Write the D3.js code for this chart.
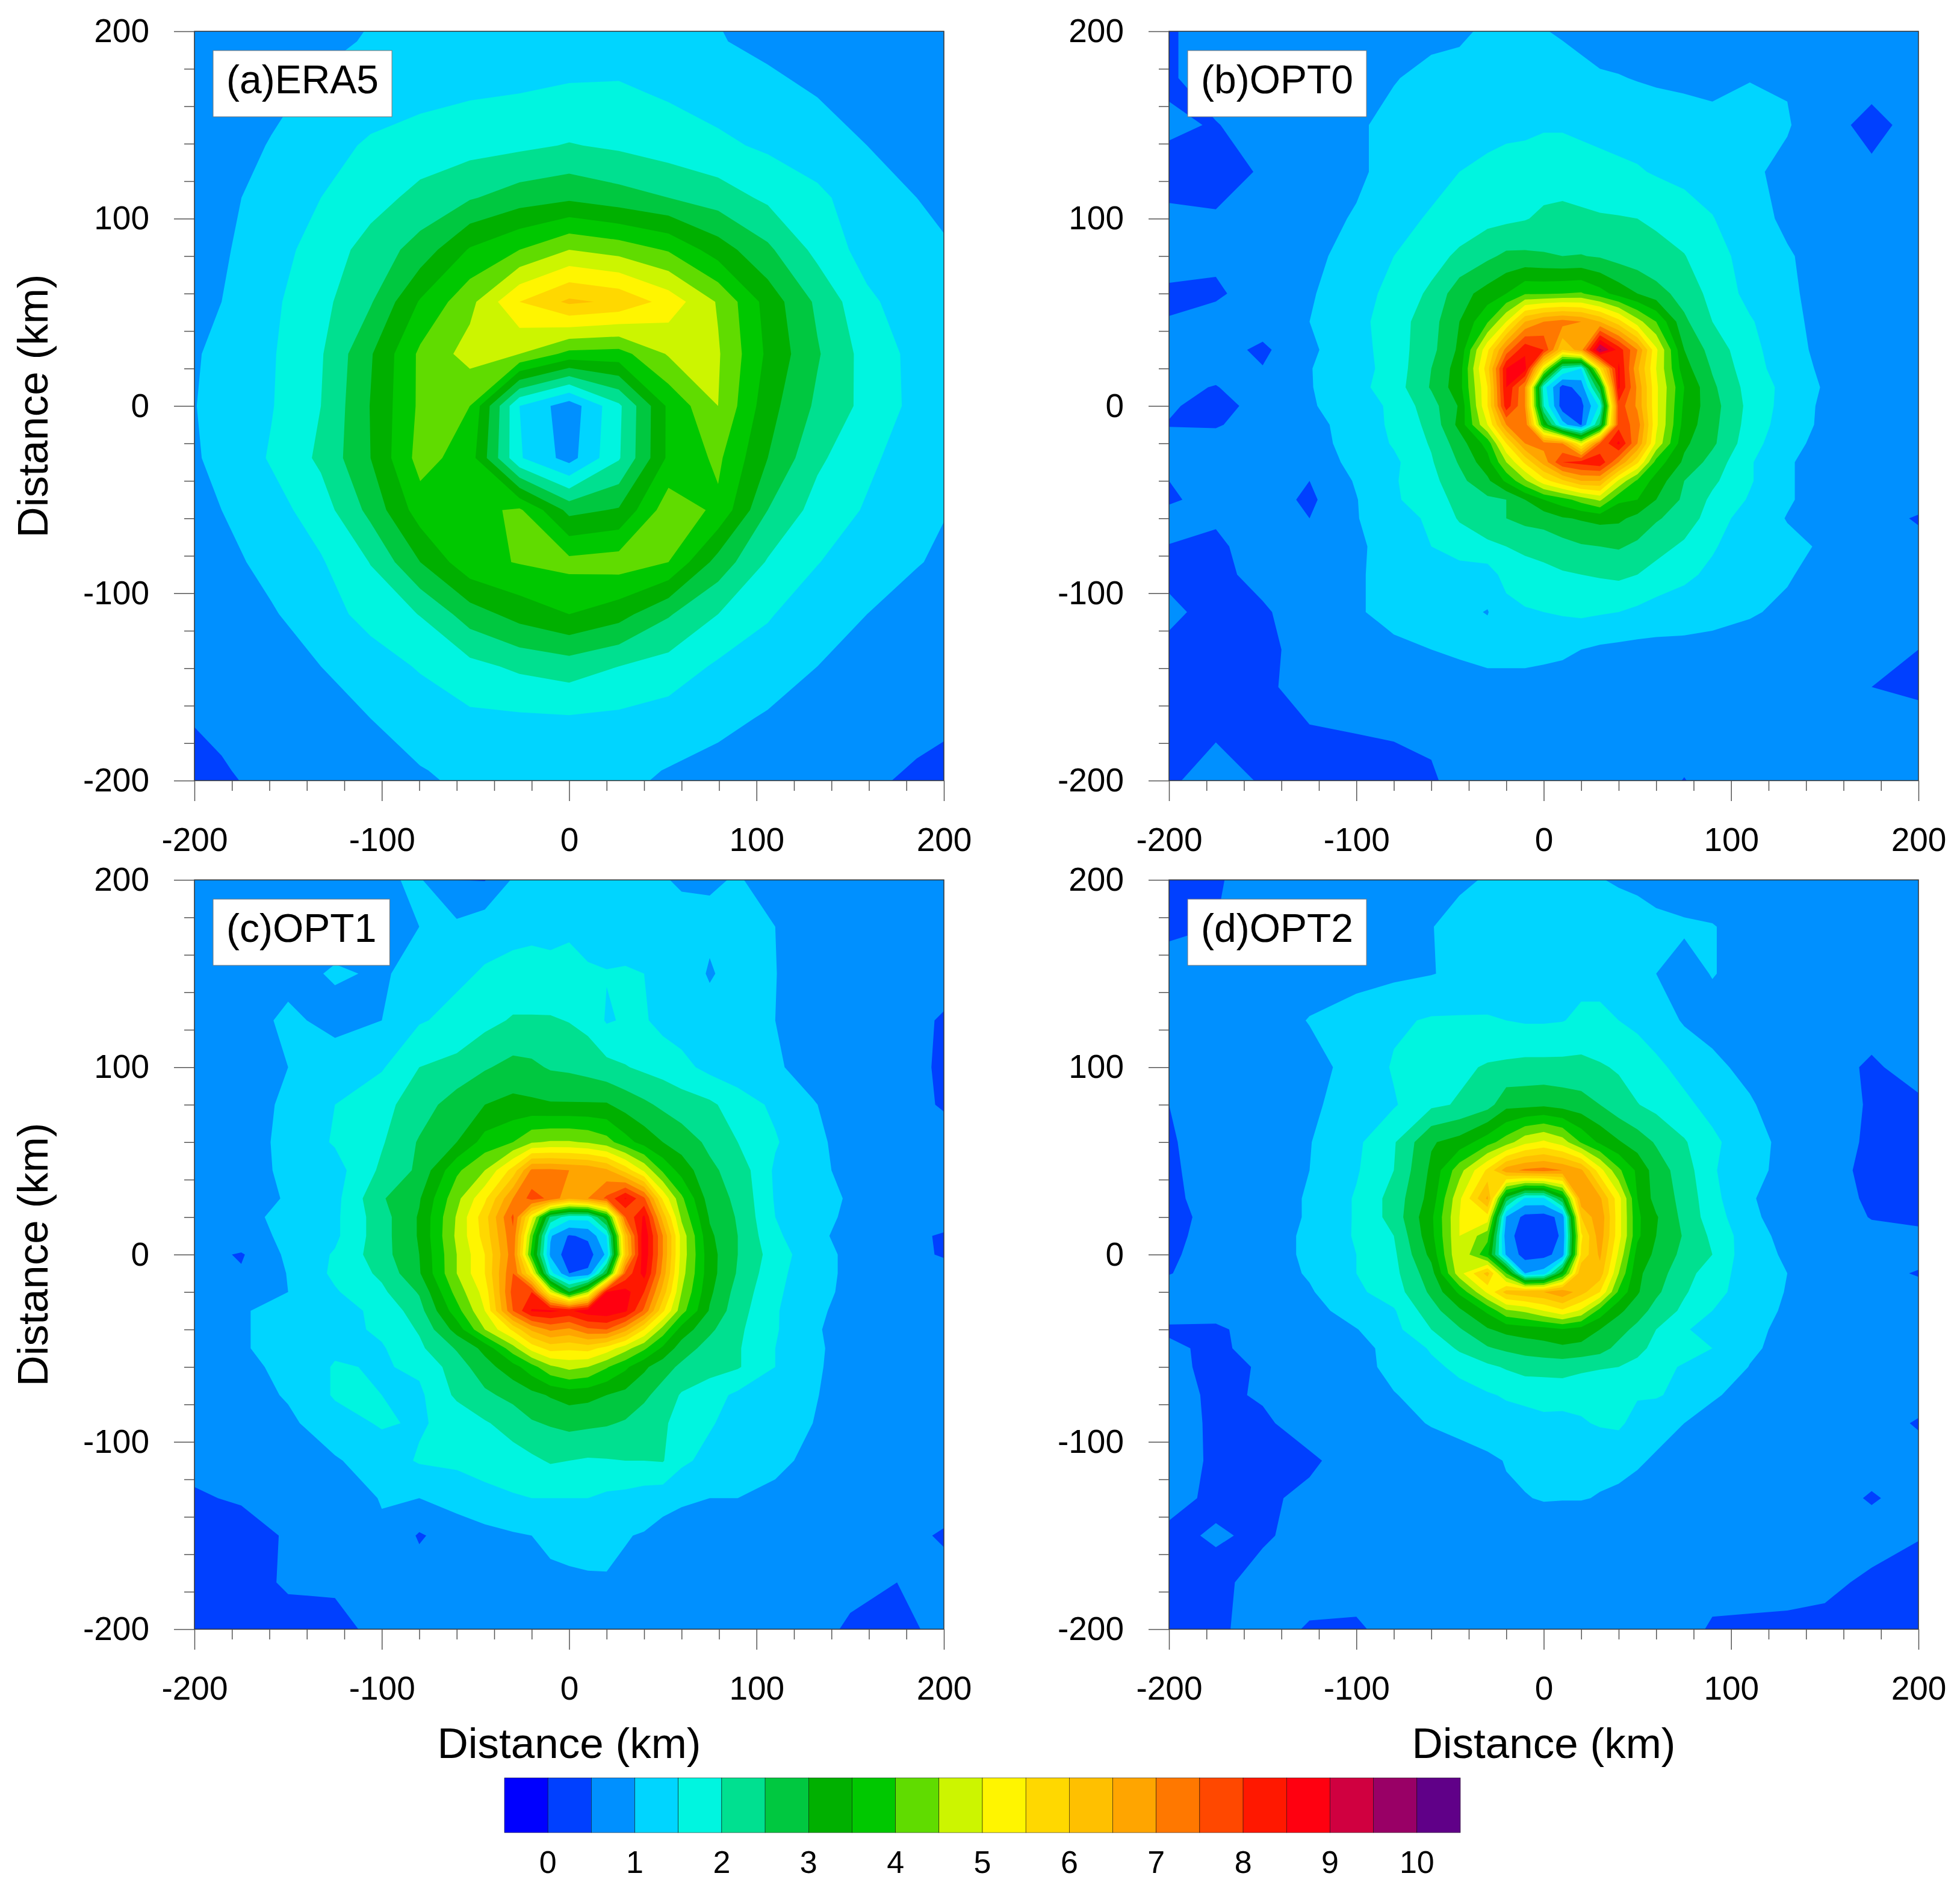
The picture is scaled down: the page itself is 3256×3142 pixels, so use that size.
<!DOCTYPE html>
<html>
<head>
<meta charset="utf-8">
<script src="https://cdn.jsdelivr.net/npm/d3@7"></script>
<style>
	body { margin: 0; background: #fff; }
	text { font-family: "Liberation Sans", Arial, sans-serif; fill: #000; }
</style>
</head>
<body>
<div id="chart"></div>
<script>
const levels = [0, .5, 1, 1.5, 2, 2.5, 3, 3.5, 4, 4.5, 5, 5.5, 6, 6.5, 7, 7.5, 8, 8.5, 9, 9.5, 10]
const fillColors = ["#0000ff", "#0040ff", "#0090ff", "#00d5ff", "#00f5e0", "#00e090", "#00c840", "#00b000", "#00c800", "#60dc00", "#ccf500", "#fff500", "#ffd800", "#ffc000", "#ffa500", "#ff7800", "#ff4800", "#ff1800", "#ff0010", "#d00040", "#990066", "#600088"]
const barLabels = [0, 1, 2, 3, 4, 5, 6, 7, 8, 9, 10]
const majorTicks = [-200, -100, 0, 100, 200]
const minorTicks = [-180, -160, -140, -120, -80, -60, -40, -20, 20, 40, 60, 80, 120, 140, 160, 180]

// ERA5 grid, about 26.5 km by 27.8 km, runs a little past the frame
const eraX = [-212, -185.5, -159, -132.5, -106, -79.5, -53, -26.5, 0, 26.5, 53, 79.5, 106, 132.5, 159, 185.5, 212]
const eraY = [222.4, 194.6, 166.8, 139, 111.2, 83.4, 55.6, 27.8, 0, -27.8, -55.6, -83.4, -111.2, -139, -166.8, -194.6, -222.4]
const era5Values = [
	[.6,.65,.75,.85,.95,1.02,1.05,1.1,1.1,1.1,1.05,.95,.8,.7,.6,.55,.5],
	[.62,.7,.8,.92,1.03,1.12,1.2,1.25,1.3,1.28,1.15,1.03,.88,.78,.68,.62,.58],
	[.68,.78,.92,1.07,1.22,1.36,1.45,1.5,1.55,1.57,1.45,1.3,1.15,.98,.85,.72,.66],
	[.75,.85,1.02,1.28,1.58,1.72,1.82,1.9,2.03,1.92,1.75,1.6,1.42,1.25,1.0,.82,.72],
	[.78,.9,1.15,1.5,1.8,2.15,2.45,2.75,2.9,2.7,2.5,2.25,1.9,1.6,1.25,1.0,.85],
	[.8,.93,1.3,1.7,2.2,2.7,3.55,4.0,4.5,4.3,3.95,3.25,2.6,1.85,1.3,1.08,.98],
	[.82,1.0,1.4,1.85,2.45,3.55,4.35,5.5,6.1,5.9,5.3,4.45,3.3,2.4,1.6,1.22,1.1],
	[.85,1.1,1.45,1.95,2.95,4.1,4.7,4.5,3.85,3.8,4.55,4.55,3.4,2.55,1.8,1.35,1.15],
	[.92,1.08,1.47,2.0,3.02,4.1,4.0,1.5,.7,1.9,3.6,4.5,3.2,2.4,1.85,1.35,1.2],
	[.85,1.1,1.55,2.1,3.0,4.2,3.75,1.55,.8,1.95,3.6,4.1,3.0,2.1,1.6,1.25,1.12],
	[.8,1.0,1.3,1.75,2.65,3.75,3.85,4.08,2.85,3.05,4.3,3.9,2.5,1.8,1.45,1.1,.95],
	[.75,.85,1.15,1.45,2.02,3.0,3.85,4.03,4.15,4.25,4.0,2.8,1.95,1.52,1.2,1.02,.88],
	[.65,.75,.95,1.27,1.68,2.02,2.75,3.2,3.5,3.2,2.55,2.0,1.55,1.2,1.0,.85,.72],
	[.58,.65,.8,1.0,1.25,1.55,1.85,2.1,2.25,2.0,1.8,1.42,1.25,1.0,.85,.72,.62],
	[.48,.55,.68,.82,1.0,1.2,1.4,1.42,1.45,1.4,1.28,1.13,.95,.8,.68,.6,.52],
	[.35,.48,.58,.7,.85,.98,1.1,1.15,1.17,1.12,.98,.85,.75,.67,.58,.47,.4],
	[.3,.4,.5,.6,.72,.85,.95,1.0,1.0,.95,.85,.75,.65,.55,.45,.38,.32]
]

// model panels: sampled finer around the eye
const optX = [-200, -175, -150, -125, -100, -80, -60, -45, -30, -20, -10, 0, 10, 20, 30, 40, 50, 60, 75, 90, 110, 130, 150, 175, 200]
const optY = [200, 175, 150, 125, 100, 80, 60, 45, 30, 20, 10, 0, -10, -20, -30, -40, -50, -60, -75, -90, -110, -130, -150, -175, -200]

const opt0Values = [
	[.45,.7,.75,.75,.8,.85,.9,.95,1.05,1.1,1.1,1.02,.95,.85,.8,.8,.8,.85,.8,.75,.75,.75,.7,.7,.7],
	[.45,.7,.75,.8,.85,.98,1.1,1.1,1.15,1.2,1.25,1.25,1.2,1.15,1.05,1.02,.98,.95,.9,.85,.98,.95,.7,.6,.7],
	[.55,.48,.68,.75,.95,1.1,1.25,1.3,1.35,1.4,1.4,1.45,1.45,1.4,1.35,1.3,1.25,1.2,1.2,1.15,1.2,1.05,.6,.42,.6],
	[.4,.3,.55,.7,.9,1.2,1.35,1.5,1.6,1.65,1.7,1.75,1.75,1.7,1.65,1.6,1.55,1.45,1.35,1.3,1.1,.85,.7,.55,.55],
	[.55,.55,.75,.8,1.05,1.35,1.55,1.7,1.85,1.9,1.97,2.1,2.15,2.1,2.05,2.03,2.0,1.95,1.75,1.52,1.2,.9,.72,.7,.7],
	[.7,.6,.78,.9,1.15,1.5,1.8,2.1,2.4,2.6,2.6,2.55,2.5,2.52,2.45,2.3,2.2,2.1,2.02,1.7,1.3,1.05,.8,.75,.75],
	[.42,.42,.75,.95,1.3,1.65,2.1,2.8,3.2,3.5,3.95,3.95,4.0,4.05,3.7,3.3,3.0,2.7,2.3,1.85,1.35,1.1,.8,.72,.72],
	[.52,.7,.75,1.0,1.35,1.75,2.3,3.0,3.95,5.0,6.5,7.0,7.2,7.0,6.5,5.7,4.7,4.0,2.6,2.0,1.55,1.15,.82,.75,.72],
	[.7,.7,.4,.92,1.3,1.75,2.35,3.1,5.4,7.2,8.4,8.0,6.0,6.8,9.6,8.3,7.0,5.1,3.0,2.3,1.65,1.2,.85,.75,.7],
	[.7,.65,.52,.98,1.3,1.7,2.5,3.25,5.8,8.5,8.7,5.0,2.0,1.5,5.5,8.6,6.6,5.0,3.2,2.45,1.7,1.25,.9,.75,.7],
	[.6,.48,.75,.97,1.35,1.75,2.55,3.3,5.5,8.5,7.0,1.7,.3,.7,3.0,8.6,6.9,5.1,3.5,2.6,1.8,1.35,.95,.75,.7],
	[.55,.35,.65,.95,1.25,1.6,2.3,3.05,5.5,8.3,7.0,2.0,.2,.35,1.6,7.8,6.9,5.1,3.4,2.7,1.85,1.3,.9,.72,.6],
	[.48,.45,.75,.85,1.2,1.6,2.15,3.15,5.0,7.0,7.4,3.5,1.2,.45,2.6,7.8,7.3,5.1,3.3,2.65,1.8,1.25,.9,.72,.5],
	[.65,.72,.78,.85,1.15,1.55,2.05,2.75,3.7,5.5,7.0,7.2,7.0,5.0,7.5,8.6,7.0,4.9,3.1,2.6,1.7,1.15,.85,.72,.7],
	[.75,.7,.78,.8,1.1,1.4,1.95,2.55,3.3,4.5,5.6,6.7,8.0,8.2,8.4,7.0,5.6,3.8,2.9,2.3,1.55,1.05,.8,.72,.72],
	[.5,.75,.75,.5,1.05,1.45,1.85,2.35,2.9,3.6,4.4,5.3,5.9,6.5,6.5,4.9,3.9,3.3,2.5,2.1,1.55,1.05,.8,.72,.7],
	[.42,.7,.75,.4,.98,1.45,1.7,2.2,2.4,2.5,3.0,3.5,3.8,4.2,4.6,3.6,3.5,3.0,2.4,1.9,1.45,1.05,.8,.72,.7],
	[.72,.55,.7,.5,.98,1.25,1.6,2.05,2.3,2.5,2.65,2.7,2.95,3.05,3.15,3.1,2.85,2.55,2.3,1.75,1.25,.98,.8,.7,.45],
	[.48,.42,.7,.72,.95,1.12,1.5,1.7,1.9,2.0,2.1,2.2,2.3,2.45,2.5,2.55,2.4,2.2,1.9,1.55,1.2,1.1,.95,.72,.65],
	[.45,.4,.62,.72,.95,1.15,1.25,1.3,1.25,1.7,1.8,1.85,1.95,2.0,2.05,2.1,2.0,1.8,1.6,1.4,1.15,1.05,.8,.72,.72],
	[.55,.42,.45,.7,.95,1.15,1.15,1.1,.98,1.3,1.45,1.5,1.55,1.6,1.55,1.5,1.4,1.3,1.25,1.2,1.05,.9,.75,.72,.72],
	[.45,.4,.4,.65,.8,.9,1.0,1.08,1.2,1.2,1.2,1.15,1.1,1.0,.92,.88,.85,.85,.85,.8,.78,.75,.72,.7,.5],
	[.4,.35,.4,.7,.72,.75,.8,.78,.8,.8,.8,.78,.75,.75,.75,.75,.75,.75,.75,.75,.72,.72,.72,.5,.42],
	[.42,.45,.47,.45,.5,.52,.6,.72,.75,.75,.75,.75,.75,.75,.75,.75,.75,.75,.75,.75,.95,.75,.72,.65,.7],
	[.42,.72,.45,.4,.38,.4,.42,.72,.75,.75,.75,.75,.75,.75,.75,.72,.72,.7,.48,.72,.72,.72,.72,.72,.72]
]

const opt1Values = [
	[.75,.75,.75,.75,.95,1.05,.5,.48,1.05,1.1,1.1,1.15,1.15,1.15,1.1,1.05,1.03,.95,.95,1.03,.85,.75,.72,.72,.72],
	[.7,.7,.72,.8,.95,1.0,1.1,1.3,1.35,1.4,1.4,1.45,1.35,1.3,1.25,1.2,1.2,1.15,1.1,1.15,1.0,.8,.95,.72,.7],
	[.72,.72,.85,1.05,.95,1.15,1.4,1.55,1.65,1.65,1.6,1.6,1.55,1.52,1.55,1.5,1.45,1.3,.95,1.2,1.02,.55,.85,.72,.7],
	[.72,.78,1.1,.85,1.0,1.45,1.65,1.85,2.05,2.05,2.05,1.98,1.85,1.45,1.55,1.55,1.35,1.25,1.2,1.15,1.0,.85,.72,.7,.45],
	[.72,.75,1.0,1.25,1.45,2.0,2.15,2.45,2.65,2.6,2.45,2.4,2.3,2.15,2.03,1.9,1.8,1.65,1.35,1.2,1.05,.85,.75,.72,.42],
	[.72,.75,1.1,1.5,1.85,2.25,2.75,3.0,3.15,3.1,3.05,3.05,3.05,3.05,2.8,2.6,2.4,2.25,2.1,1.75,1.4,1.03,.8,.72,.45],
	[.72,.75,1.15,1.55,1.95,2.55,3.0,3.7,4.0,4.45,4.55,4.55,4.45,4.2,3.7,3.3,3.0,2.75,2.4,2.0,1.55,1.1,.85,.72,.72],
	[.72,.8,1.1,1.3,2.1,2.6,3.9,4.5,5.7,7.1,7.1,7.0,6.9,6.6,5.8,4.9,3.9,3.3,2.6,2.3,1.42,1.15,.85,.72,.7],
	[.72,.75,1.05,1.35,2.45,2.95,4.35,5.4,7.0,7.7,7.4,6.6,7.0,7.6,8.55,7.6,5.4,4.1,2.75,2.4,1.45,1.2,.95,.72,.7],
	[.72,.9,1.1,1.4,2.3,3.05,4.55,5.8,7.6,5.2,2.4,1.7,1.7,3.3,7.5,8.6,6.3,4.4,2.95,2.45,1.5,1.2,.9,.72,.72],
	[.82,.9,1.05,1.4,2.3,3.05,4.6,5.7,7.4,4.2,1.05,.45,.6,1.5,6.2,8.9,7.0,4.8,3.1,2.5,1.6,1.12,.85,.65,.45],
	[.7,.45,1.1,1.55,2.3,3.0,4.5,5.5,7.3,3.8,.9,.2,.25,1.1,6.0,8.9,7.0,4.8,3.2,2.5,1.75,1.2,.9,.7,.45],
	[.72,.55,1.02,1.6,2.1,2.95,4.5,5.5,7.5,5.4,1.7,.5,.6,3.0,7.6,8.7,6.8,4.7,3.2,2.45,1.65,1.2,.9,.7,.72],
	[.75,.72,1.0,1.45,1.9,2.55,4.2,5.2,7.7,8.0,5.0,3.0,4.5,8.5,8.7,8.0,6.3,4.5,3.1,2.3,1.6,1.15,.9,.72,.72],
	[.72,.95,1.2,1.35,1.6,2.3,3.8,5.0,7.5,8.55,8.6,8.4,8.8,8.9,8.6,7.4,5.6,4.2,2.95,2.2,1.55,1.1,.85,.72,.72],
	[.72,.95,1.2,1.3,1.6,2.05,3.2,4.5,5.6,6.6,7.1,6.9,7.4,7.5,6.7,5.5,4.3,3.3,2.6,2.1,1.55,1.05,.85,.7,.7],
	[.72,.95,1.2,1.4,1.45,1.9,2.55,3.15,4.3,5.2,5.7,5.6,5.7,5.3,4.7,4.1,3.4,2.75,2.3,2.05,1.5,1.1,.8,.72,.7],
	[.72,.95,1.05,1.55,1.45,1.6,2.25,2.8,3.3,3.8,4.4,4.65,4.5,4.05,3.6,3.1,2.7,2.4,2.2,2.05,1.5,1.1,.75,.72,.72],
	[.7,.78,1.05,1.55,1.5,1.4,2.1,2.4,2.65,2.85,3.05,3.2,3.15,3.0,2.85,2.6,2.3,1.95,1.7,1.4,1.2,1.05,.75,.72,.72],
	[.65,.7,.9,1.3,1.55,1.45,1.65,1.95,2.2,2.45,2.55,2.65,2.6,2.55,2.45,2.25,2.1,1.75,1.55,1.3,1.15,1.0,.75,.72,.72],
	[.62,.65,.75,.95,1.25,1.55,1.6,1.7,1.8,1.9,2.05,2.0,1.95,1.97,2.0,2.0,2.03,1.6,1.35,1.2,1.05,.95,.75,.72,.6],
	[.45,.55,.65,.8,1.02,1.0,1.2,1.35,1.45,1.5,1.5,1.5,1.5,1.4,1.35,1.25,1.2,1.08,1.0,1.0,.95,.78,.72,.7,.7],
	[.35,.3,.55,.7,.95,.45,.72,.85,.95,1.0,1.1,1.15,1.15,1.1,1.02,.97,.8,.75,.72,.72,.72,.7,.68,.65,.45],
	[.4,.35,.55,.55,.72,.72,.72,.75,.8,.85,.9,.92,.95,.97,.93,.88,.8,.72,.72,.72,.72,.72,.65,.5,.65],
	[.35,.3,.35,.4,.6,.7,.72,.72,.72,.72,.72,.72,.72,.72,.72,.72,.72,.72,.72,.72,.72,.7,.42,.4,.6]
]

const opt2Values = [
	[.4,.45,.72,.72,.72,.72,.75,.9,1.05,1.1,1.1,1.1,1.08,1.05,1.02,.95,.9,.85,.8,.75,.72,.72,.72,.72,.7],
	[.4,.5,.72,.75,.78,.8,.98,1.2,1.25,1.3,1.3,1.3,1.3,1.3,1.28,1.25,1.2,1.1,1.05,1.02,.85,.75,.72,.72,.72],
	[.72,.72,.75,.8,.85,.9,.98,1.1,1.15,1.2,1.25,1.25,1.3,1.35,1.35,1.35,1.2,1.0,.85,1.02,.85,.72,.72,.72,.72],
	[.72,.72,.78,1.02,1.2,1.42,1.55,1.55,1.55,1.5,1.45,1.45,1.48,1.6,1.6,1.5,1.4,1.25,.95,.85,.9,.72,.75,.72,.72],
	[.72,.72,.75,.85,1.15,1.55,1.75,1.9,2.05,2.1,2.15,2.15,2.15,2.15,2.05,1.95,1.75,1.6,1.35,1.1,.88,.72,.72,.42,.72],
	[.5,.72,.75,.9,1.25,1.45,1.9,2.05,2.3,2.85,2.85,2.9,2.8,2.7,2.5,2.2,2.02,1.85,1.6,1.35,1.05,.75,.72,.45,.4],
	[.45,.72,.75,.98,1.4,1.95,2.95,3.2,3.8,4.25,4.85,5.1,4.75,3.95,3.4,3.05,2.75,2.45,2.05,1.6,1.2,.85,.72,.42,.35],
	[.42,.72,.75,1.0,1.45,2.0,3.1,4.3,5.6,6.8,7.1,7.2,7.0,6.6,5.2,4.1,3.4,2.75,2.25,1.55,1.15,.85,.72,.35,.35],
	[.38,.72,.75,1.05,1.55,2.2,3.2,4.9,6.6,2.8,1.4,1.4,3.0,6.9,6.6,5.2,3.5,2.8,2.35,1.65,1.05,.75,.72,.42,.5],
	[.35,.65,.75,1.05,1.55,2.2,3.4,5.0,5.3,.95,.35,.3,.65,6.0,6.9,5.2,3.6,3.05,2.35,1.75,1.1,.78,.72,.48,.45],
	[.38,.68,.75,1.1,1.55,2.0,3.35,5.0,4.2,.65,.3,.3,.55,5.4,6.8,5.2,3.6,3.0,2.45,1.9,1.2,.85,.72,.62,.55],
	[.42,.72,.75,1.1,1.5,1.9,3.15,5.0,3.6,.9,.3,.35,.7,5.6,6.6,4.9,3.3,2.9,2.35,2.0,1.15,.95,.72,.72,.72],
	[.48,.72,.75,1.05,1.5,1.85,2.8,4.8,6.2,4.0,1.0,1.2,3.4,6.5,6.3,4.5,3.1,2.75,2.15,1.8,1.2,1.0,.72,.7,.45],
	[.72,.72,.75,.95,1.4,1.75,2.6,3.6,5.1,6.2,6.4,6.5,6.9,6.2,5.5,3.9,3.05,2.6,2.05,1.7,1.2,.98,.72,.72,.72],
	[.72,.72,.75,.8,1.25,1.45,2.3,2.9,3.6,4.4,4.6,5.0,5.4,4.9,3.8,3.1,2.75,2.3,1.9,1.5,1.15,.95,.72,.72,.72],
	[.42,.4,.75,.75,.98,1.35,2.0,2.45,2.95,3.15,3.25,3.3,3.45,3.3,3.0,2.7,2.35,2.0,1.55,1.3,1.15,.85,.72,.72,.72],
	[.6,.38,.72,.75,.85,1.15,1.55,2.1,2.45,2.6,2.7,2.8,2.9,2.85,2.7,2.35,2.15,1.85,1.7,1.5,1.1,.8,.72,.72,.7],
	[.65,.35,.55,.75,.85,1.12,1.4,1.6,1.9,2.05,2.2,2.2,2.2,2.1,2.05,2.0,1.85,1.65,1.45,1.45,.98,.78,.72,.72,.72],
	[.7,.4,.55,.72,.78,.98,1.15,1.35,1.45,1.55,1.6,1.65,1.7,1.65,1.52,1.5,1.55,1.55,1.35,1.05,.85,.75,.72,.72,.72],
	[.7,.42,.42,.72,.75,.85,1.03,1.15,1.25,1.3,1.35,1.4,1.35,1.45,1.55,1.6,1.3,1.15,1.0,.85,.75,.72,.72,.72,.45],
	[.72,.42,.4,.42,.72,.72,.75,.8,.92,1.02,1.1,1.1,1.1,1.0,1.1,1.08,1.05,.95,.78,.75,.72,.72,.72,.72,.7],
	[.65,.4,.42,.6,.72,.72,.55,.72,.75,.95,.98,1.03,1.02,1.02,.98,.95,.85,.75,.72,.72,.72,.72,.72,.45,.7],
	[.4,.55,.42,.72,.72,.72,.72,.72,.72,.72,.72,.72,.72,.72,.72,.72,.72,.72,.72,.72,.72,.72,.72,.72,.52],
	[.38,.35,.72,.72,.72,.72,.72,.72,.72,.72,.72,.72,.72,.72,.72,.72,.72,.72,.72,.72,.7,.68,.62,.4,.35],
	[.35,.4,.72,.45,.42,.7,.72,.72,.72,.72,.72,.72,.72,.72,.72,.72,.72,.72,.72,.42,.4,.38,.35,.33,.3]
]

const panels = [
	{ label: "(a)ERA5", left: 323, top: 52, gridX: eraX, gridY: eraY, values: era5Values, yTitle: true, xTitle: false },
	{ label: "(b)OPT0", left: 1942, top: 52, gridX: optX, gridY: optY, values: opt0Values, yTitle: false, xTitle: false },
	{ label: "(c)OPT1", left: 323, top: 1462, gridX: optX, gridY: optY, values: opt1Values, yTitle: true, xTitle: true },
	{ label: "(d)OPT2", left: 1942, top: 1462, gridX: optX, gridY: optY, values: opt2Values, yTitle: false, xTitle: true }
]

const size = 1245
const svg = d3.select("#chart").append("svg")
	.attr("width", 3256)
	.attr("height", 3142)
	.style("display", "block")

const xKm = d3.scaleLinear().domain([-200, 200]).range([0, size])
const yKm = d3.scaleLinear().domain([-200, 200]).range([size, 0])

panels.forEach((p, n) => {
	const g = svg.append("g").attr("transform", `translate(${p.left},${p.top})`)

	svg.append("clipPath").attr("id", `clip${n}`)
		.append("rect").attr("width", size).attr("height", size)

	const nx = p.gridX.length, ny = p.gridY.length
	// node i of the grid sits at i + 0.5 in d3.contours coordinates
	const xNode = d3.scaleLinear().domain(p.gridX.map((d, i) => i + .5)).range(p.gridX).clamp(true)
	const yNode = d3.scaleLinear().domain(p.gridY.map((d, i) => i + .5)).range(p.gridY).clamp(true)
	const path = d3.geoPath(d3.geoTransform({
		point(x, y) { this.stream.point(xKm(xNode(x)), yKm(yNode(y))) }
	}))

	const contours = d3.contours().size([nx, ny]).thresholds(levels)(p.values.flat())

	const field = g.append("g").attr("clip-path", `url(#clip${n})`)
	field.append("rect").attr("width", size).attr("height", size).attr("fill", fillColors[0])
	field.selectAll("path")
		.data(contours)
		.enter().append("path")
		.attr("d", path)
		.attr("fill", (d, i) => fillColors[i + 1])

	g.append("rect")
		.attr("width", size).attr("height", size)
		.attr("fill", "none").attr("stroke", "#333").attr("stroke-width", 1.5)

	// axes, major and minor ticks; labels use a plain hyphen
	const axisX = g.append("g").attr("transform", `translate(0,${size})`)
	axisX.append("g").call(d3.axisBottom(xKm).tickValues(minorTicks).tickSize(17).tickFormat(""))
	axisX.append("g").call(d3.axisBottom(xKm).tickValues(majorTicks).tickSize(34).tickPadding(44).tickFormat(d => String(d)))
	const axisY = g.append("g")
	axisY.append("g").call(d3.axisLeft(yKm).tickValues(minorTicks).tickSize(17).tickFormat(""))
	axisY.append("g").call(d3.axisLeft(yKm).tickValues(majorTicks).tickSize(34).tickPadding(41).tickFormat(d => String(d)))
	g.selectAll(".domain").remove()
	g.selectAll(".tick line").attr("stroke", "#555").attr("stroke-width", 1.5)
	g.selectAll(".tick text").style("font-size", "55px").attr("font-family", null)

	// panel tag
	const tag = g.append("g").attr("transform", "translate(31,32)")
	const box = tag.append("rect").attr("height", 110).attr("fill", "#fff").attr("stroke", "#777").attr("stroke-width", 1)
	const tagText = tag.append("text").attr("x", 22).attr("y", 71).style("font-size", "66px").text(p.label)
	box.attr("width", tagText.node().getComputedTextLength() + 44)

	if (p.xTitle) {
		g.append("text")
			.attr("x", size / 2).attr("y", size + 214)
			.attr("text-anchor", "middle")
			.style("font-size", "71px")
			.text("Distance (km)")
	}
	if (p.yTitle) {
		g.append("text")
			.attr("transform", `translate(${79 - p.left},${size / 2}) rotate(-90)`)
			.attr("text-anchor", "middle")
			.style("font-size", "71px")
			.text("Distance (km)")
	}
})

// colour bar
const barLeft = 838, barRight = 2426, barTop = 2954, barHeight = 91
const boxWidth = (barRight - barLeft) / fillColors.length
const barScale = d3.scaleLinear().domain([-.5, 10.5]).range([barLeft, barRight])

svg.append("g").selectAll("rect")
	.data(fillColors)
	.enter().append("rect")
	.attr("x", (d, i) => barLeft + i * boxWidth)
	.attr("y", barTop)
	.attr("width", boxWidth)
	.attr("height", barHeight)
	.attr("fill", d => d)
	.attr("stroke", "#000")
	.attr("stroke-width", .5)

svg.append("g").selectAll("text")
	.data(barLabels)
	.enter().append("text")
	.attr("x", d => barScale(d))
	.attr("y", 3112)
	.attr("text-anchor", "middle")
	.style("font-size", "52px")
	.text(d => d)
</script>
</body>
</html>
